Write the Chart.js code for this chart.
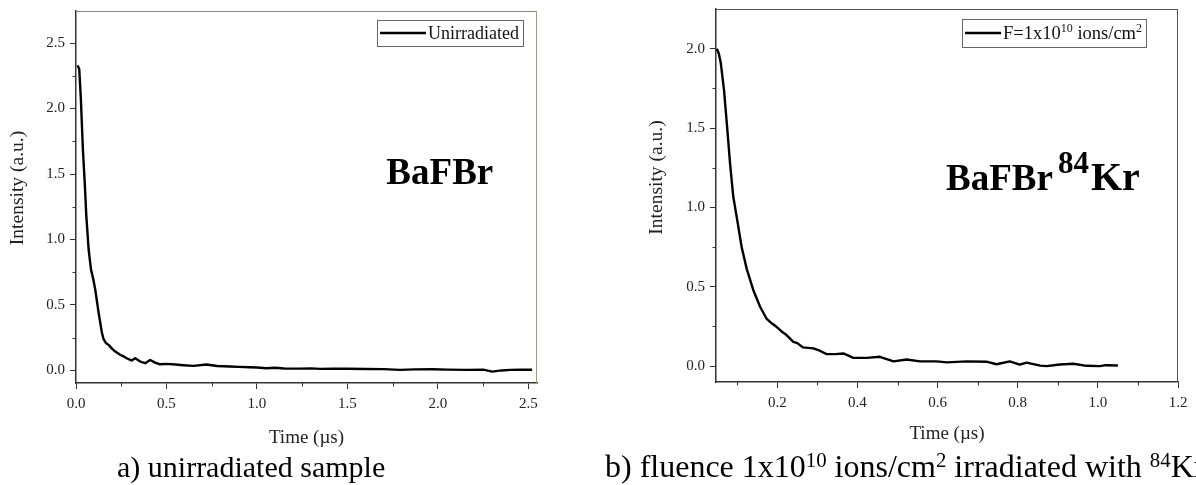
<!DOCTYPE html>
<html><head><meta charset="utf-8">
<script src="https://cdn.jsdelivr.net/npm/chart.js@4.4.1/dist/chart.umd.min.js"></script>
<style>
html,body{margin:0;padding:0;background:#fff;}
body{width:1196px;height:485px;position:relative;overflow:hidden;font-family:"Liberation Serif","Times New Roman",serif;}
#wa{position:absolute;left:0;top:0;width:580px;height:452px;}
#wb{position:absolute;left:600px;top:0;width:596px;height:452px;}
.cap{position:absolute;top:449px;font-size:30px;line-height:36px;color:#000;white-space:nowrap;}
#capA{left:117px;}
#capB{left:605px;font-size:32px;top:448px;}
.cap sup{font-size:0.65em;vertical-align:0.5em;line-height:0;}
</style></head><body>
<div id="wa"><canvas id="ca"></canvas></div>
<div id="wb"><canvas id="cb"></canvas></div>
<div class="cap" id="capA">a) unirradiated sample</div>
<div class="cap" id="capB">b) fluence 1x10<sup>10</sup> ions/cm<sup>2</sup> irradiated with <sup>84</sup>Kr</div>
<script>
// ---- data: panel a (unirradiated) ----
const timeA = [0.009,0.018,0.027,0.038,0.048,0.057,0.070,0.083,0.095,0.106,0.125,0.143,0.152,0.165,0.180,0.200,0.217,0.244,0.260,0.280,0.308,0.327,0.355,0.382,0.410,0.437,0.465,0.500,0.550,0.593,0.650,0.720,0.780,0.850,0.900,0.960,1.000,1.053,1.100,1.150,1.237,1.300,1.350,1.420,1.500,1.600,1.700,1.790,1.870,1.970,2.050,2.160,2.250,2.300,2.350,2.400,2.450,2.520];
const intensityA = [2.33,2.30,2.07,1.69,1.44,1.18,0.92,0.77,0.70,0.62,0.44,0.29,0.24,0.21,0.195,0.165,0.144,0.119,0.110,0.093,0.075,0.093,0.068,0.055,0.080,0.060,0.047,0.050,0.045,0.040,0.035,0.045,0.034,0.030,0.027,0.024,0.022,0.017,0.020,0.015,0.014,0.016,0.012,0.014,0.013,0.011,0.010,0.004,0.008,0.009,0.006,0.004,0.006,-0.009,0.000,0.004,0.006,0.005];
// ---- data: panel b (F = 1x10^10 ions/cm^2) ----
const timeB = [0.049,0.054,0.059,0.067,0.074,0.082,0.090,0.100,0.111,0.124,0.140,0.157,0.173,0.186,0.198,0.210,0.223,0.240,0.250,0.264,0.290,0.306,0.323,0.345,0.365,0.390,0.423,0.456,0.490,0.523,0.556,0.598,0.623,0.673,0.722,0.747,0.780,0.805,0.822,0.856,0.872,0.905,0.939,0.972,1.005,1.020,1.050];
const intensityB = [2.00,1.97,1.91,1.74,1.53,1.28,1.07,0.92,0.75,0.61,0.48,0.374,0.30,0.27,0.248,0.22,0.196,0.153,0.145,0.118,0.112,0.097,0.076,0.076,0.080,0.052,0.052,0.059,0.030,0.042,0.030,0.030,0.024,0.030,0.028,0.012,0.030,0.009,0.022,0.003,0.000,0.010,0.015,0.002,0.000,0.006,0.004];
// ---- tick values ----
const xMajorA = [0.0,0.5,1.0,1.5,2.0,2.5];
const xMinorA = [0.25,0.75,1.25,1.75,2.25];
const yMajorA = [0.0,0.5,1.0,1.5,2.0,2.5];
const yMinorA = [0.25,0.75,1.25,1.75,2.25];
const xMajorB = [0.2,0.4,0.6,0.8,1.0,1.2];
const xMinorB = [0.1,0.3,0.5,0.7,0.9,1.1];
const yMajorB = [0.0,0.5,1.0,1.5,2.0];
const yMinorB = [0.25,0.75,1.25,1.75];
const xTitle = 'Time (\u00B5s)';
const yTitle = 'Intensity (a.u.)';
const legendA = [{t:'Unirradiated'}];
const legendB = [{t:'F=1x10'},{t:'10',sup:true},{t:' ions/cm'},{t:'2',sup:true}];

const SERIF = '"Liberation Serif","Times New Roman",serif';
const AXIS = '#333';

function pieceWidth(ctx, pieces, size, supSize, bold){
  let w = 0;
  for (const p of pieces){
    ctx.font = (bold?'bold ':'') + (p.size || (p.sup?supSize:size)) + 'px ' + SERIF;
    w += ctx.measureText(p.t).width + (p.gap||0);
  }
  return w;
}
function drawPieces(ctx, pieces, x, y, size, supSize, rise, bold){
  ctx.textBaseline = 'alphabetic';
  ctx.textAlign = 'left';
  for (const p of pieces){
    x += (p.gap||0);
    ctx.font = (bold?'bold ':'') + (p.size || (p.sup?supSize:size)) + 'px ' + SERIF;
    ctx.fillText(p.t, x, p.sup ? y - rise : y);
    x += ctx.measureText(p.t).width;
  }
  return x;
}

const decor = {
  id: 'decor',
  afterDraw(chart, args, o){
    const ctx = chart.ctx, a = chart.chartArea;
    const xs = chart.scales.x, ys = chart.scales.y;
    ctx.save();
    ctx.lineWidth = 1;
    ctx.strokeStyle = o.topColor;
    ctx.beginPath(); ctx.moveTo(a.left, a.top+0.5); ctx.lineTo(a.right, a.top+0.5); ctx.stroke();
    ctx.strokeStyle = o.rightColor;
    ctx.beginPath(); ctx.moveTo(a.right-0.5, a.top); ctx.lineTo(a.right-0.5, a.bottom); ctx.stroke();
    ctx.strokeStyle = AXIS; ctx.lineWidth = 1;
    for (const v of o.xMinor){
      const px = Math.round(xs.getPixelForValue(v))+0.5;
      ctx.beginPath(); ctx.moveTo(px, a.bottom); ctx.lineTo(px, a.bottom+3.5); ctx.stroke();
    }
    for (const v of o.yMinor){
      const py = Math.round(ys.getPixelForValue(v))+0.5;
      ctx.beginPath(); ctx.moveTo(a.left-3.5, py); ctx.lineTo(a.left, py); ctx.stroke();
    }
    // y-axis title
    ctx.save();
    ctx.translate(o.yTitle.x, (a.top + a.bottom)/2 - o.yTitle.up);
    ctx.rotate(-Math.PI/2);
    ctx.fillStyle = '#222';
    ctx.font = o.yTitle.size + 'px ' + SERIF;
    ctx.textAlign = 'center'; ctx.textBaseline = 'middle';
    ctx.fillText(yTitle, 0, 0);
    ctx.restore();
    // legend
    const lg = o.legend;
    const tw = pieceWidth(ctx, lg.pieces, lg.size, lg.supSize, false);
    const bx2 = a.right - lg.dx, bx1 = bx2 - (lg.lineLen + 4 + tw + 5);
    const by1 = a.top + lg.dy, by2 = by1 + lg.h;
    ctx.fillStyle = '#fff';
    ctx.fillRect(bx1, by1, bx2-bx1, by2-by1);
    ctx.strokeStyle = '#666'; ctx.lineWidth = 1;
    ctx.strokeRect(Math.round(bx1)+0.5, Math.round(by1)+0.5, Math.round(bx2-bx1), Math.round(by2-by1));
    const cy = (by1+by2)/2;
    ctx.strokeStyle = '#000'; ctx.lineWidth = 2.3;
    ctx.beginPath(); ctx.moveTo(bx1+3, cy); ctx.lineTo(bx1+3+lg.lineLen, cy); ctx.stroke();
    ctx.fillStyle = '#111';
    drawPieces(ctx, lg.pieces, bx1+3+lg.lineLen+2, cy + lg.size*0.33, lg.size, lg.supSize, lg.rise, false);
    // annotation
    const an = o.annot;
    ctx.fillStyle = '#000';
    const ax = xs.getPixelForValue(an.x), ay = ys.getPixelForValue(an.y);
    let startX = ax;
    if (an.center){ startX = ax - pieceWidth(ctx, an.pieces, an.size, an.supSize, true)/2; }
    drawPieces(ctx, an.pieces, startX, ay, an.size, an.supSize, an.rise, true);
    ctx.restore();
  }
};

function makeChart(id, cfg){
  return new Chart(document.getElementById(id), {
    type: 'line',
    data: { datasets: [{
      data: cfg.t.map((t,i)=>({x:t, y:cfg.v[i]})),
      borderColor: '#000', borderWidth: 2.4, pointRadius: 0, tension: 0,
      borderJoinStyle: 'round', fill: false
    }]},
    options: {
      responsive: true, maintainAspectRatio: false, animation: false,
      layout: { padding: cfg.pad },
      plugins: { legend: {display:false}, tooltip: {enabled:false}, decor: cfg.decor },
      scales: {
        x: {
          type: 'linear', min: cfg.xMin, max: cfg.xMax,
          afterBuildTicks: s => { s.ticks = cfg.xMajor.map(v=>({value:v})); },
          afterFit: s => { s.height = cfg.xH; },
          ticks: { callback: v => Number(v).toFixed(1), color: '#222', padding: 6, maxRotation: 0,
                   font: {family: SERIF, size: 15} },
          grid: { drawOnChartArea: false, drawTicks: true, tickLength: 6, tickColor: AXIS, tickWidth: 1 },
          border: { display: true, color: AXIS, width: 1.5 },
          title: { display: true, text: xTitle, color: '#222', font: {family: SERIF, size: 19},
                   padding: {top: 0, bottom: cfg.xTitlePad} }
        },
        y: {
          type: 'linear', min: cfg.yMin, max: cfg.yMax,
          afterBuildTicks: s => { s.ticks = cfg.yMajor.map(v=>({value:v})); },
          afterFit: s => { s.width = 76; s.paddingTop = 0; s.paddingBottom = 0; },
          ticks: { callback: v => Number(v).toFixed(1), color: '#222', padding: 5,
                   font: {family: SERIF, size: 15} },
          grid: { drawOnChartArea: false, drawTicks: true, tickLength: 6, tickColor: AXIS, tickWidth: 1 },
          border: { display: true, color: AXIS, width: 1.5 },
          title: { display: false }
        }
      }
    },
    plugins: [decor]
  });
}

makeChart('ca', {
  t: timeA, v: intensityA,
  xMin: 0, xMax: 2.547, yMin: -0.096, yMax: 2.745,
  xMajor: xMajorA, yMajor: yMajorA, xH: 69, xTitlePad: 3, 
  pad: {left: 0, right: 43, top: 11, bottom: 0},
  decor: {
    topColor: '#888', rightColor: '#b8936b', xMinor: xMinorA, yMinor: yMinorA,
    yTitle: {x: 18, up: 9, size: 19.5},
    legend: {pieces: legendA, size: 18, supSize: 12, rise: 7, lineLen: 46, dx: 14, dy: 9, h: 26},
    annot: {pieces: [{t:'BaFBr'}], x: 2.01, y: 1.51 - 0.09, size: 37, supSize: 26, rise: 16, center: true}
  }
});

makeChart('cb', {
  t: timeB, v: intensityB,
  xMin: 0.047, xMax: 1.2, yMin: -0.10, yMax: 2.251,
  xMajor: xMajorB, yMajor: yMajorB, xH: 70, xTitlePad: 7,
  pad: {left: 40, right: 18, top: 9, bottom: 0},
  decor: {
    topColor: '#555', rightColor: '#555', xMinor: xMinorB, yMinor: yMinorB,
    yTitle: {x: 57, up: 18, size: 19.5},
    legend: {pieces: legendB, size: 18.5, supSize: 12, rise: 7, lineLen: 36, dx: 32, dy: 10, h: 28},
    annot: {pieces: [{t:'BaFBr'}, {t:'84',sup:true,gap:5,size:31}, {t:'Kr',gap:2,size:40}], x: 0.621, y: 1.11, size: 37, supSize: 31, rise: 17, center: false}
  }
});
</script>
</body></html>
